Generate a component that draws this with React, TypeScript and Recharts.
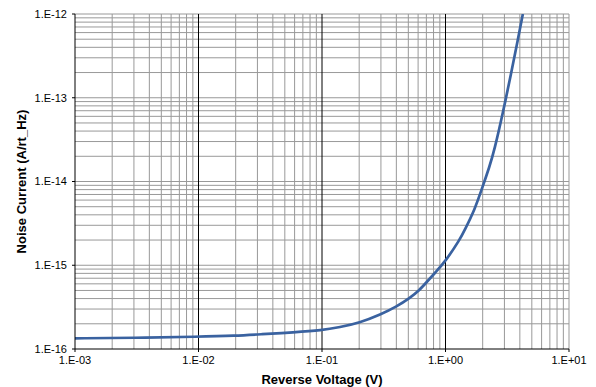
import React from 'react';
import { LineChart, Line, XAxis, YAxis, CartesianGrid } from 'recharts';

// reverse voltage (V)
const voltage = [0.001, 0.003, 0.01, 0.02, 0.032, 0.059, 0.1, 0.139, 0.2, 0.301, 0.399, 0.511, 0.616, 0.698, 0.84, 1.0, 1.3, 1.43, 1.72, 2.0, 2.27, 2.49, 2.91, 3.4, 3.85, 4.23];
// noise current (A/rt_Hz)
const noise = [1.34e-16, 1.36e-16, 1.4e-16, 1.44e-16, 1.5e-16, 1.58e-16, 1.67e-16, 1.82e-16, 2.05e-16, 2.6e-16, 3.2e-16, 4.03e-16, 5.06e-16, 6.2e-16, 8.4e-16, 1.12e-15, 2.0e-15, 2.64e-15, 4.57e-15, 8.7e-15, 1.5e-14, 2.38e-14, 6.5e-14, 1.96e-13, 4.9e-13, 1e-12];

const xTicks = [1e-3, 1e-2, 1e-1, 1e0, 1e1];
const yTicks = [1e-16, 1e-15, 1e-14, 1e-13, 1e-12];

const data = voltage.map((v, i) => ({ v, n: noise[i] }));

// minor grid values 2..9 per decade
const minors = (decades: number[]) => {
  const out: number[] = [];
  decades.slice(0, -1).forEach((d) => {
    for (let k = 2; k <= 9; k++) out.push(k * d);
  });
  return out;
};

const xMinor = [...minors(xTicks), 10];
const xMajor = [1e-2, 1e-1, 1e0];
const yGrid = [...minors(yTicks), ...yTicks.slice(1)];

const fmt = (v: number) => {
  const e = Math.round(Math.log10(v));
  return `1.E${e < 0 ? '-' : '+'}${String(Math.abs(e)).padStart(2, '0')}`;
};

const tickStyle = { fontSize: 11, fill: '#000', fontFamily: 'Liberation Sans, Arial, sans-serif' };
const labelStyle = { fontSize: 13, fontWeight: 'bold', fill: '#000', fontFamily: 'Liberation Sans, Arial, sans-serif' };

export default function App() {
  return (
    <div style={{ position: 'absolute', left: 0, top: 0, background: '#fff' }}>
      <LineChart width={596} height={387} data={data} margin={{ top: 14, right: 27, left: 0, bottom: 0 }}>
        <CartesianGrid horizontalValues={yGrid} verticalValues={xMinor} stroke="#999" strokeWidth={1} />
        <CartesianGrid horizontal={false} verticalValues={xMajor} stroke="#000" strokeWidth={1} />
        <XAxis
          dataKey="v"
          type="number"
          scale="log"
          domain={[1e-3, 10]}
          ticks={xTicks}
          interval={0}
          allowDataOverflow
          tickFormatter={fmt}
          tick={tickStyle}
          tickSize={3}
          tickMargin={4}
          height={38}
          stroke="#000"
          label={{ value: 'Reverse Voltage (V)', position: 'insideBottom', offset: 3, style: labelStyle }}
        />
        <YAxis
          dataKey="n"
          type="number"
          scale="log"
          domain={[1e-16, 1e-12]}
          ticks={yTicks}
          interval={0}
          allowDataOverflow
          tickFormatter={fmt}
          tick={tickStyle}
          tickSize={3}
          tickMargin={5}
          width={75}
          stroke="#000"
          label={{ value: 'Noise Current (A/rt_Hz)', angle: -90, position: 'insideLeft', offset: 21, style: { ...labelStyle, textAnchor: 'middle' } }}
        />
        <Line
          type="basis"
          dataKey="n"
          stroke="#3A62A0"
          strokeWidth={2.7}
          dot={false}
          isAnimationActive={false}
        />
      </LineChart>
    </div>
  );
}
